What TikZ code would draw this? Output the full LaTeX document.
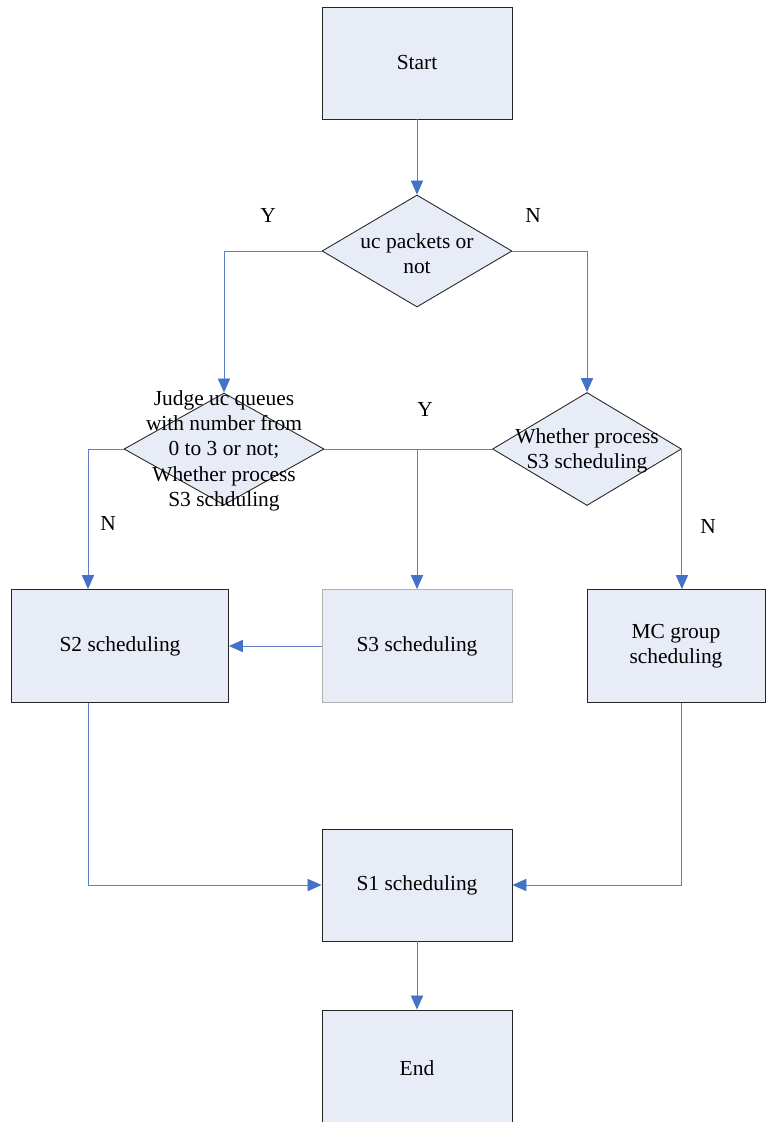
\documentclass[tikz,border=0pt]{standalone}
\usepackage{fontspec}
\setmainfont{Liberation Serif}
\usetikzlibrary{shapes.geometric,arrows.meta}

\definecolor{boxfill}{RGB}{232,236,247}
\definecolor{linkblue}{RGB}{90,128,200}
\definecolor{tipblue}{RGB}{68,114,196}

\tikzset{
    block/.style={draw=black!85, line width=0.5pt, fill=boxfill, inner sep=0pt,
        minimum width=3.8cm, minimum height=2.24cm, align=center},
    decision/.style={diamond, draw=black!85, line width=0.5pt, fill=boxfill,
        inner sep=0pt},
    txt/.style={align=center, font=\fontsize{12.2}{14.3}\selectfont},
    lbl/.style={yshift=-1pt},
    link/.style={draw=linkblue, line width=0.5pt,
        -{Triangle[width=7pt,length=8pt,color=tipblue]}},
    plain/.style={draw=linkblue, line width=0.5pt}
}

\begin{document}
\begin{tikzpicture}[x=0.02cm, y=-0.02cm, every node/.style={txt}]

    \useasboundingbox (0,0) rectangle (765,1122);

    % Boxes
    \node[block] (start) at (417,63) {Start};
    \node[block, minimum width=4.34cm, minimum height=2.26cm] (s2) at (120,646) {S2 scheduling};
    \node[block, draw=black!30, minimum height=2.26cm] (s3) at (417,646) {S3 scheduling};
    \node[block, minimum width=3.56cm, minimum height=2.26cm] (mc) at (676,646) {MC group\\scheduling};
    \node[block] (s1) at (417,885) {S1 scheduling};
    \node[block, minimum height=2.4cm] (end) at (417,1070) {};
    \node[lbl] (endtxt) at (417,1066) {End};

    % Decisions
    \node[decision, minimum width=3.8cm, minimum height=2.24cm] (d1) at (417,251) {};
    \node[lbl] (d1txt) at (417,252) {uc packets or\\not};
    \node[decision, minimum width=4.0cm, minimum height=2.24cm] (d2) at (224,449) {};
    \node[lbl] (d2txt) at (224,449) {Judge uc queues\\with number from\\0 to 3 or not;\\Whether process\\S3 schduling};
    \node[decision, minimum width=3.78cm, minimum height=2.26cm] (d3) at (587,449) {};
    \node[lbl] (d3txt) at (587,449) {Whether process\\S3 scheduling};

    % Helper for the S2 line
    \coordinate (s2x) at (88,0);

    % Links
    \draw[link] (start) -- (d1);
    \draw[link] (d1.west) -| (d2.north);
    \draw[link] (d1.east) -| (d3.north);
    \draw[link] (d2.west) -| (s2.north -| s2x);
    \draw[plain] (d2.east) -- (d3.west);
    \draw[link] (d2.east -| s3.north) -- (s3.north);
    \draw[link] (d3.east) -- (d3.east |- mc.north);
    \draw[link] (s3.west) -- (s2.east);
    \draw[link] (s2.south -| s2x) |- (s1.west);
    \draw[link] (mc.south -| d3.east) |- (s1.east);
    \draw[link] (s1) -- (end);

    % Labels
    \node[lbl] (ylab1) at (268,214) {Y};
    \node[lbl] (nlab1) at (533,214) {N};
    \node[lbl] (ylab2) at (425,408) {Y};
    \node[lbl] (nlab2) at (108,522) {N};
    \node[lbl] (nlab3) at (708,525) {N};

\end{tikzpicture}
\end{document}
